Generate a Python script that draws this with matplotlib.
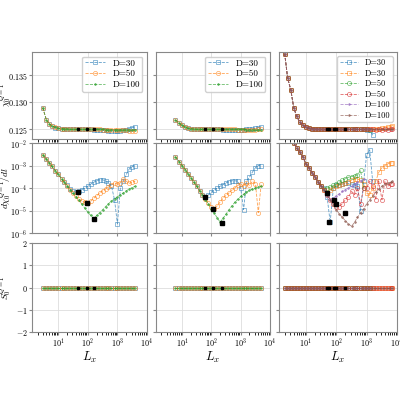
import numpy as np
import matplotlib
matplotlib.use("Agg")
import matplotlib.pyplot as plt

plt.rcParams['font.family'] = 'serif'
plt.rcParams['font.serif'] = ['cmr10', 'DejaVu Serif']
plt.rcParams['mathtext.fontset'] = 'cm'
plt.rcParams['axes.formatter.use_mathtext'] = True
plt.rcParams['font.size'] = 7.5

nan = np.nan
# ---------------- left panel data ----------------
L_left = [3, 4, 5, 6, 8, 10, 13, 16, 20, 25, 32, 40, 50, 63, 80, 100, 126, 158, 200, 250,
          320, 400, 500, 630, 800, 1000, 1260, 1580, 2000, 2500, 3200, 4000]
chi_left_30 = [0.1290, 0.1267, 0.1260, 0.1256, 0.1253, 0.1252, 0.1251, 0.1251, 0.1250, 0.1250,
               0.1250, 0.1250, 0.1250, 0.1250, 0.1250, 0.1250, 0.1250, 0.1249, 0.1249, 0.1249,
               0.1248, 0.1248, 0.1247, 0.1247, 0.1247, 0.1246, 0.1247, 0.1248, 0.1249, 0.1251, 0.1253, 0.1254]
chi_left_50 = [0.1290, 0.1267, 0.1260, 0.1256, 0.1254, 0.1252, 0.1251, 0.1251, 0.1251, 0.1250,
               0.1250, 0.1250, 0.1250, 0.1250, 0.1250, 0.1250, 0.1250, 0.1250, 0.1250, 0.1250,
               0.1249, 0.1249, 0.1249, 0.1249, 0.1249, 0.1249, 0.1248, 0.1248, 0.1248, 0.1247, 0.1247, 0.1246]
chi_left_100 = [0.1290, 0.1267, 0.1260, 0.1256, 0.1254, 0.1252, 0.1251, 0.1251, 0.1251, 0.1250,
                0.1250, 0.1250, 0.1250, 0.1250, 0.1250, 0.1250, 0.1250, 0.1250, 0.1250, 0.1250,
                0.1250, 0.1249, 0.1249, 0.1249, 0.1249, 0.1249, 0.1249, 0.1249, 0.1249, 0.1249, 0.1249, 0.1249]
d_left_30 = [3e-3, 1.9e-3, 1.3e-3, 9.5e-4, 5.8e-4, 4e-4, 2.6e-4, 1.8e-4, 1.3e-4, 9e-5,
             7e-5, 6.5e-5, 7e-5, 8.5e-5, 1e-4, 1.2e-4, 1.5e-4, 1.8e-4, 2.1e-4, 2.3e-4,
             2.3e-4, 2.1e-4, 1.7e-4, 1.2e-4, 3e-5, 2.5e-6, 1e-4, 2e-4, 4e-4, 7e-4, 9e-4, 1e-3]
d_left_50 = [3e-3, 1.9e-3, 1.3e-3, 9.5e-4, 5.8e-4, 4e-4, 2.6e-4, 1.8e-4, 1.25e-4, 8.5e-5,
             5.8e-5, 4.2e-5, 3.2e-5, 2.6e-5, 2.3e-5, 2.1e-5, 2.6e-5, 3.5e-5, 4.5e-5, 6e-5,
             7.5e-5, 9e-5, 1.1e-4, 1.4e-4, 1.7e-4, 1.5e-4, 1.7e-4, 2.5e-4, 2e-4, 1.6e-4, 1.9e-4, 2e-4]
d_left_100 = [3e-3, 1.9e-3, 1.3e-3, 9.5e-4, 5.8e-4, 4e-4, 2.6e-4, 1.8e-4, 1.25e-4, 8.5e-5,
              5.8e-5, 4e-5, 2.8e-5, 1.9e-5, 1.25e-5, 8.5e-6, 6e-6, 4.4e-6, 6e-6, 8e-6,
              1.1e-5, 1.5e-5, 2e-5, 2.6e-5, 3.3e-5, 4e-5, 5e-5, 6e-5, 7.5e-5, 9e-5, 1.05e-4, 1.2e-4]
mark_left_L = [45, 92, 158]
mark_left_d = [6.6e-5, 2.1e-5, 4.4e-6]
mark_left_chi = [0.1250, 0.1250, 0.1250]

# ---------------- middle panel data ----------------
L_mid = [6, 8, 10, 13, 16, 20, 25, 32, 40, 50, 63, 80, 100, 126, 158, 200, 250, 320, 400,
         500, 630, 800, 1000, 1260, 1580, 2000, 2500, 3200, 4000, 5000]
chi_mid_30 = [0.1267, 0.1261, 0.1257, 0.1254, 0.1252, 0.1251, 0.1251, 0.1250, 0.1250, 0.1250,
              0.1250, 0.1250, 0.1250, 0.1250, 0.1250, 0.1250, 0.1249, 0.1249, 0.1249, 0.1249,
              0.1249, 0.1249, 0.1249, 0.1249, 0.1250, 0.1250, 0.1251, 0.1252, 0.1253, 0.1255]
chi_mid_50 = [0.1267, 0.1261, 0.1257, 0.1254, 0.1252, 0.1251, 0.1251, 0.1250, 0.1250, 0.1250,
              0.1250, 0.1250, 0.1250, 0.1250, 0.1250, 0.1250, 0.1250, 0.1250, 0.1250, 0.1250,
              0.1250, 0.1249, 0.1249, 0.1249, 0.1249, 0.1249, 0.1249, 0.1249, 0.1250, 0.1250]
chi_mid_100 = [0.1267, 0.1261, 0.1257, 0.1254, 0.1252, 0.1251, 0.1251, 0.1250, 0.1250, 0.1250,
               0.1250, 0.1250, 0.1250, 0.1250, 0.1250, 0.1250, 0.1250, 0.1250, 0.1250, 0.1250,
               0.1250, 0.1250, 0.1250, 0.1250, 0.1249, 0.1249, 0.1249, 0.1249, 0.1249, 0.1249]
d_mid_30 = [2.4e-3, 1.5e-3, 1e-3, 6.5e-4, 4.3e-4, 2.9e-4, 1.9e-4, 1.2e-4, 7.5e-5, 5e-5,
            4e-5, 5e-5, 6.5e-5, 8e-5, 1e-4, 1.2e-4, 1.4e-4, 1.7e-4, 1.9e-4,
            2.1e-4, 2.1e-4, 2e-4, 1e-4, 1.1e-5, 2e-4, 3e-4, 5e-4, 8e-4, 1e-3, 1e-3]
d_mid_50 = [2.4e-3, 1.5e-3, 1e-3, 6.5e-4, 4.3e-4, 2.9e-4, 1.9e-4, 1.2e-4, 7.5e-5, 4.8e-5,
            3.1e-5, 2.1e-5, 1.5e-5, 1.2e-5, 1.6e-5, 2.4e-5, 3.5e-5, 4.8e-5, 6e-5,
            8e-5, 1e-4, 1.3e-4, 1.5e-4, 1.2e-4, 1.7e-4, 1.3e-4, 2e-4, 1.5e-4, 8e-6, 1.5e-4]
d_mid_100 = [2.4e-3, 1.5e-3, 1e-3, 6.5e-4, 4.3e-4, 2.9e-4, 1.9e-4, 1.2e-4, 7.5e-5, 4.8e-5,
             3e-5, 1.9e-5, 1.2e-5, 7.5e-6, 4.8e-6, 3e-6, 4.5e-6, 7e-6, 1.1e-5,
             1.6e-5, 2.3e-5, 3.2e-5, 4.2e-5, 5.3e-5, 6.5e-5, 7.8e-5, 9e-5, 1e-4, 1.1e-4, 1.2e-4]
mark_mid_L = [60, 115, 230]
mark_mid_d = [4e-5, 1.2e-5, 2.7e-6]
mark_mid_chi = [0.1250, 0.1250, 0.1250]

# ---------------- right panel data ----------------
L_right = [2, 2.5, 3.2, 4, 5, 6.3, 8, 10, 13, 16, 20, 25, 32, 40, 50, 63, 80, 100, 126, 158,
           200, 250, 320, 400, 500, 630, 800, 1000, 1260, 1580, 2000, 2500, 3200, 4000, 5000, 6300, 7000]
chi_right_common = [0.1390, 0.1345, 0.1322, 0.1289, 0.1274, 0.1263, 0.1257, 0.1254, 0.1252, 0.1251,
                    0.1251, 0.1250, 0.1250, 0.1250, 0.1250, 0.1250, 0.1250, 0.1250, 0.1250, 0.1250,
                    0.1250, 0.1250, 0.1250, 0.1250, 0.1250, 0.1250, 0.1250, 0.1250, 0.1250, 0.1250,
                    0.1250, 0.1250, 0.1250, 0.1250, 0.1250, 0.1250, 0.1250]
chi_right_30a = chi_right_common[:27] + [0.1249, 0.1248, 0.1239, nan, nan, nan, nan, nan, nan, nan]
chi_right_30b = chi_right_common[:30] + [0.1250, 0.1251, 0.1252, 0.1253, 0.1254, 0.1255, 0.1256]
chi_right_50a = chi_right_common[:28] + [0.1249, nan, nan, nan, nan, nan, nan, nan, nan]
chi_right_50b = chi_right_common[:30] + [0.1249, 0.1250, 0.1249, 0.1250, 0.1249, 0.1250, 0.1250]
chi_right_100a = chi_right_common[:29] + [nan, nan, nan, nan, nan, nan, nan, nan]
chi_right_100b = chi_right_common[:]
d_right_common = [4e-2, 2.5e-2, 1.6e-2, 1e-2, 6e-3, 3.8e-3, 2.4e-3, 1.2e-3, 7.5e-4, 4.7e-4,
                  3e-4, 1.9e-4, 1.2e-4]
d_right_30a = d_right_common + [1e-4, 4e-5, 3e-6, 1e-4, 1.3e-4, 1.4e-4, 1.5e-4, 1.6e-4, 1.6e-4,
                                1.5e-4, 1.4e-4, 1.2e-4, 1e-5, 2e-4, 3e-3, 5e-3, 2e-4, nan, nan, nan, nan, nan, nan, nan]
d_right_30b = d_right_common + [8e-5, 6e-5, 8e-5, 1e-4, 1.2e-4, 1.3e-4, 1.5e-4, 1.7e-4, 1.9e-4,
                                2.2e-4, 2.4e-4, 2.5e-4, 2.2e-4, 1.5e-4, 6e-5, 5e-5, 1e-4, 2e-4, 5e-4, 8e-4, 1e-3, 1.2e-3, 1.3e-3, 1.3e-3]
d_right_50a = d_right_common + [9e-5, 1e-4, 1.1e-4, 1.3e-4, 1.5e-4, 1.8e-4, 2.2e-4, 2.6e-4, 3e-4,
                                3.2e-4, 3.5e-4, 3.8e-4, 6e-4, 1e-4, nan, nan, nan, nan, nan, nan, nan, nan, nan, nan]
d_right_50b = d_right_common + [8e-5, 5e-5, 3e-5, 2e-5, 1.5e-5, 1.5e-5, 2e-5, 3e-5, 4e-5,
                                7e-5, 5e-5, 1e-4, 2e-5, 1e-4, 1e-4, 2e-4, 1.2e-4, 3e-5, 2e-4, 3e-5, 2e-4, 1.2e-4, 1.5e-4, 1.5e-4]
d_right_100a = d_right_common + [8e-5, 5e-5, 3e-5, 3.5e-5, 4.5e-5, 5.5e-5, 7e-5, 8.5e-5, 1e-4,
                                 1.2e-4, 1.5e-4, 1.8e-4, 2.1e-4, 2.5e-4, nan, nan, nan, nan, nan, nan, nan, nan, nan, nan]
d_right_100b = d_right_common + [8e-5, 5e-5, 3e-5, 1.8e-5, 1.1e-5, 7e-6, 5e-6, 3.5e-6, 2.5e-6,
                                 2e-6, 3e-6, 5e-6, 8e-6, 1.2e-5, 2e-5, 3e-5, 4.5e-5, 6.5e-5, 9e-5, 1.2e-4, 1.5e-4, 1.7e-4, 1.8e-4, 2e-4]
mark_right_L = [50, 58, 85, 190, 95]
mark_right_d = [6e-5, 3e-6, 3e-5, 8e-6, 2e-5]
mark_right_chi = [0.1250, 0.1250, 0.1250, 0.1250, 0.1250]

S_value = 0.0

colors = {'30': '#1f77b4', '30b': '#ff7f0e', '50': '#2ca02c', '50b': '#d62728',
          '100': '#9467bd', '100b': '#8c564b'}

fig = plt.figure(figsize=(4, 4), dpi=100)
W, H = 400, 400
cols = [(32, 147), (156, 270), (279, 397)]
rows = [(52, 139), (143, 233), (243, 332)]
axes = [[None]*3 for _ in range(3)]
for r, (y0, y1) in enumerate(rows):
    for c, (x0, x1) in enumerate(cols):
        axes[r][c] = fig.add_axes([x0/W, 1-y1/H, (x1-x0)/W, (y1-y0)/H])


def style(ax):
    ax.set_xscale('log')
    ax.set_xlim(1.3, 1e4)
    ax.grid(True, color='#dddddd', lw=0.6)
    ax.set_axisbelow(True)
    for s in ax.spines.values():
        s.set_color('#888888')
    ax.tick_params(labelsize=5.8, length=2, pad=1.2, color='#888888')


def series_set(col):
    if col == 0:
        return L_left, [('D=30', chi_left_30, d_left_30, colors['30'], 's'),
                        ('D=50', chi_left_50, d_left_50, colors['30b'], 'o'),
                        ('D=100', chi_left_100, d_left_100, colors['50'], '.')], \
            (mark_left_L, mark_left_chi, mark_left_d)
    if col == 1:
        return L_mid, [('D=30', chi_mid_30, d_mid_30, colors['30'], 's'),
                       ('D=50', chi_mid_50, d_mid_50, colors['30b'], 'o'),
                       ('D=100', chi_mid_100, d_mid_100, colors['50'], '.')], \
            (mark_mid_L, mark_mid_chi, mark_mid_d)
    return L_right, [('D=30', chi_right_30a, d_right_30a, colors['30'], 's'),
                     ('D=30', chi_right_30b, d_right_30b, colors['30b'], 's'),
                     ('D=50', chi_right_50a, d_right_50a, colors['50'], 'o'),
                     ('D=50', chi_right_50b, d_right_50b, colors['50b'], 'o'),
                     ('D=100', chi_right_100a, d_right_100a, colors['100'], '.'),
                     ('D=100', chi_right_100b, d_right_100b, colors['100b'], '.')], \
        (mark_right_L, mark_right_chi, mark_right_d)


for c in range(3):
    L, ser, marks = series_set(c)
    for lab, chi, d, col, mk in ser:
        kw = dict(color=col, ls='--', lw=0.6, marker=mk, ms=3 if mk != '.' else 2.5,
                  mfc='none' if mk != '.' else col, mew=0.5, alpha=0.7)
        axes[0][c].plot(L, chi, label=lab, **kw)
        axes[1][c].plot(L, d, **kw)
        S = [S_value if not np.isnan(v) else nan for v in chi]
        axes[2][c].plot(L, S, **kw)
    mL, mchi, md = marks
    axes[0][c].plot(mL, mchi, 's', color='k', ms=1.5, ls='none')
    axes[1][c].plot(mL, md, 's', color='k', ms=2.2, ls='none')
    axes[2][c].plot(mL, [S_value]*len(mL), 's', color='k', ms=1.5, ls='none')

for r in range(3):
    for c in range(3):
        ax = axes[r][c]
        style(ax)
        if r == 0:
            ax.set_ylim(0.1232, 0.1393)
            ax.set_yticks([0.125, 0.130, 0.135])
        elif r == 1:
            ax.set_yscale('log')
            ax.set_ylim(1e-6, 1e-2)
            ax.set_yticks([1e-6, 1e-5, 1e-4, 1e-3, 1e-2])
            ax.minorticks_off()
        else:
            ax.set_ylim(-2, 2)
            ax.set_yticks([-2, -1, 0, 1, 2])
        ax.set_xticks([10, 100, 1000, 10000])
        if r < 2:
            ax.tick_params(labelbottom=False)
        else:
            ax.set_xlabel(r'$L_x$', fontsize=9, labelpad=0)
        if c > 0:
            ax.tick_params(labelleft=False)

ylabels = [r'$\chi_0^{Q=1}$', r'$d\chi_0^{Q=1}/dl$', r'$S_0^{Q=1}$']
for r, (y0, y1) in enumerate(rows):
    fig.text(6/W, 1-(y0+y1)/2/H, ylabels[r], rotation=90, ha='center', va='center', fontsize=6.8)

for c in range(3):
    axes[0][c].legend(loc='upper right', fontsize=6.5 if c < 2 else 6, handlelength=2.2,
                      borderpad=0.3, labelspacing=0.25, framealpha=0.9)

fig.savefig('out.png', dpi=100)
